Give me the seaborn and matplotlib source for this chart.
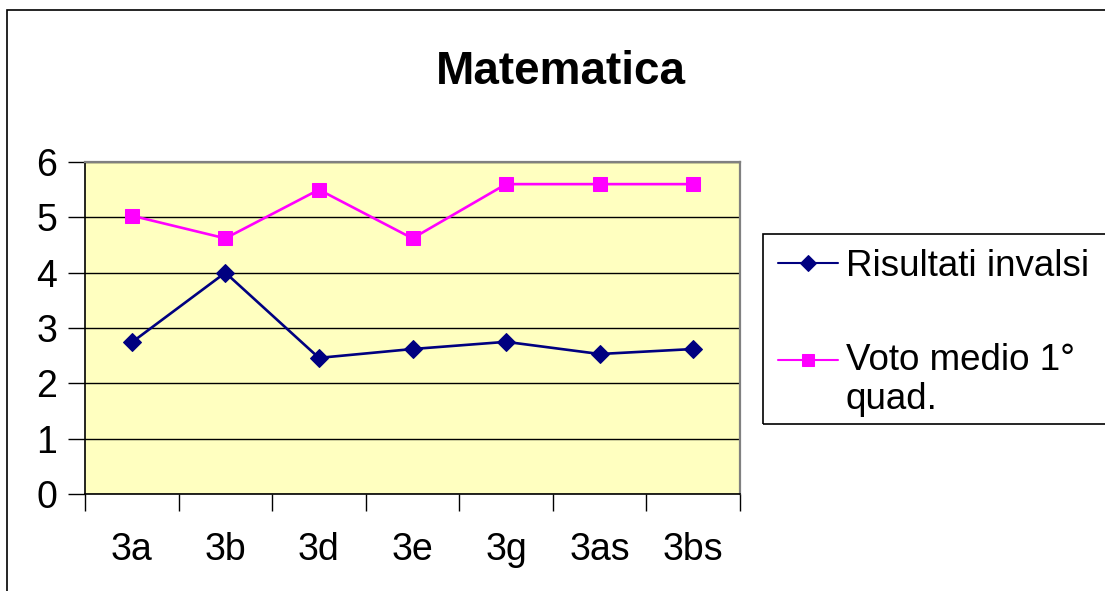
import numpy as np
import pandas as pd
import matplotlib.pyplot as plt
import matplotlib.patches as mpatches
import seaborn as sns

# Values
classi = ["3a", "3b", "3d", "3e", "3g", "3as", "3bs"]
risultati_invalsi = [2.74, 4.0, 2.46, 2.62, 2.75, 2.53, 2.62]
voto_medio = [5.03, 4.62, 5.5, 4.62, 5.6, 5.6, 5.6]

serie = ["Risultati invalsi", "Voto medio 1°\nquad."]
colori = ["#000080", "#FF00FF"]
marker = ["D", "s"]


def main():
    df = pd.DataFrame({
        "Classe": classi * 2,
        "Valore": risultati_invalsi + voto_medio,
        "Serie": [serie[0]] * len(classi) + [serie[1]] * len(classi),
    })

    sns.set_style("white")
    plt.rcParams["font.family"] = ["Liberation Sans", "DejaVu Sans"]
    plt.rcParams["text.color"] = "black"
    plt.rcParams["xtick.color"] = "black"
    plt.rcParams["ytick.color"] = "black"

    fig = plt.figure(figsize=(11.05, 5.91), dpi=100)
    ax = fig.add_axes([85 / 1105, 1 - 494 / 591, 655 / 1105, 332 / 591])
    ax.set_facecolor("#FFFFC0")

    # outer chart border (right and bottom edges fall outside the picture)
    fig.patches.append(mpatches.Rectangle(
        (7 / 1105, -0.1), 1.2, 1.1 - 10 / 591, transform=fig.transFigure,
        fill=False, edgecolor="black", linewidth=1.2))
    # legend frame, also running off the right edge
    fig.patches.append(mpatches.Rectangle(
        (763 / 1105, 1 - 424 / 591), 0.5, 190 / 591, transform=fig.transFigure,
        fill=False, edgecolor="black", linewidth=1.2))

    for i, name in enumerate(serie):
        sub = df[df["Serie"] == name]
        sns.lineplot(data=sub, x="Classe", y="Valore", ax=ax, color=colori[i],
                     marker=marker[i], markersize=9 if i == 0 else 10.5,
                     markeredgecolor=colori[i], linewidth=1.9, label=name,
                     sort=False)

    ax.set_xlim(-0.5, len(classi) - 0.5)
    ax.set_ylim(0, 6)
    ax.set_yticks(range(0, 7))
    ax.yaxis.grid(True, color="black", linewidth=1)
    ax.set_axisbelow(True)

    ax.set_xticks(range(len(classi)))
    ax.set_xticklabels(classi)
    ax.set_xticks([k - 0.5 for k in range(len(classi) + 1)], minor=True)
    ax.tick_params(axis="x", which="major", length=0, pad=27, labelsize=27)
    ax.tick_params(axis="x", which="minor", length=12, width=1, color="black",
                   direction="out", bottom=True)
    ax.tick_params(axis="y", length=12, width=1, color="black", direction="out",
                   left=True, labelsize=27, pad=8)
    ax.set_xlabel("")
    ax.set_ylabel("")

    for side in ["left", "bottom"]:
        ax.spines[side].set_color("black")
        ax.spines[side].set_linewidth(1.2)
    for side in ["top", "right"]:
        ax.spines[side].set_color("#808080")
        ax.spines[side].set_linewidth(1.6)

    fig.text(561 / 1105, 1 - 84 / 591, "Matematica", ha="center", va="baseline",
             fontsize=33, fontweight="bold")

    leg = ax.legend(loc="upper left", bbox_to_anchor=(763 / 1105, 1 - 234 / 591),
                    bbox_transform=fig.transFigure, fontsize=26.5, frameon=False,
                    handlelength=1.65, handletextpad=0.2, labelspacing=1.62,
                    borderpad=0.4, borderaxespad=0)
    for t in leg.get_texts():
        t.set_linespacing(1.12)
    for h in leg.legend_handles:
        h.set_markersize(8)
        h.set_linewidth(1.5)
    # put the second handle level with the first line of its two-line label
    h2 = leg.legend_handles[1]
    h2.set_ydata(np.asarray(h2.get_ydata()) + 15)

    fig.savefig("out.png", dpi=100)


if __name__ == "__main__":
    main()
